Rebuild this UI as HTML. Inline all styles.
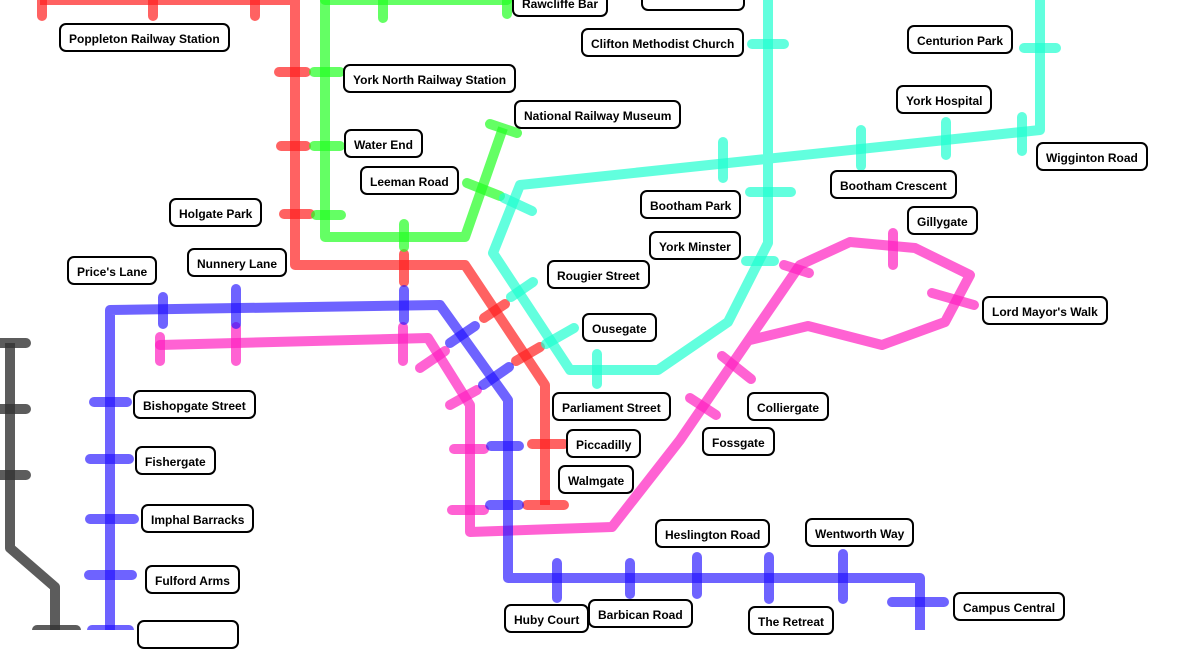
<!DOCTYPE html>
<html><head><meta charset="utf-8"><style>
body{margin:0;width:1200px;height:630px;overflow:hidden;background:#fff;position:relative;font-family:"Liberation Sans",sans-serif}
.l{position:absolute;border:2px solid #000;border-radius:7px;background:#fff;font-size:12px;font-weight:bold;height:29px;line-height:29px;padding:0 8px;box-sizing:border-box;white-space:nowrap}
svg{position:absolute;left:0;top:0}
</style></head><body>
<svg width="1200" height="630" fill="none" stroke-width="10" stroke-linejoin="round" stroke-linecap="round">
<g stroke="#333" stroke-opacity="0.8">
<polyline points="10,343 10,548 55,587 55,640" stroke-linecap="butt"/>
<path d="M0 343H26"/><path d="M0 409H26"/><path d="M0 475H26"/><path d="M37 630H76"/>
</g>
<g stroke="#ff2020" stroke-opacity="0.7">
<polyline points="40,0 295,0 295,265 465,265 545,385 545,505" stroke-linecap="butt"/>
<path d="M42 0V16"/><path d="M153 0V16"/><path d="M255 0V16"/><path d="M279 72H306"/><path d="M281 146H306"/><path d="M284 214H310"/><path d="M404 254V282"/><path d="M484 318L505 304"/><path d="M516 361L540 347"/><path d="M532 444H564"/><path d="M527 505H564"/>
</g>
<g stroke="#22ff22" stroke-opacity="0.7">
<polyline points="325,0 325,237 465,237 503,128" stroke-linecap="butt"/>
<path d="M325 0H507"/><path d="M383 0V18"/><path d="M507 0V14"/><path d="M314 72H340"/><path d="M314 146H340"/><path d="M316 215H341"/><path d="M404 224V247"/><path d="M467 183L500 196"/><path d="M490 124L517 133"/>
</g>
<g stroke="#20ffd0" stroke-opacity="0.7">
<polyline points="768,0 768,243 728,322 658,370 570,370 493,253 520,185 1040,130 1040,0" stroke-linecap="butt"/>
<path d="M752 44H784"/><path d="M723 142V178"/><path d="M750 192H791"/><path d="M861 130V166"/><path d="M946 122V155"/><path d="M1022 117V151"/><path d="M1024 48H1056"/><path d="M504 198L532 211"/><path d="M511 297L533 282"/><path d="M546 344L574 328"/><path d="M597 354V384"/><path d="M746 261H774"/>
</g>
<g stroke="#ff20c0" stroke-opacity="0.7">
<polyline points="160,345 428,338 470,405 470,532 612,527 680,440 800,265 850,242 915,248 970,275 945,322 882,345 808,326 750,340"/>
<path d="M160 337V361"/><path d="M236 327V361"/><path d="M403 327V361"/><path d="M420 368L445 351"/><path d="M450 405L477 390"/><path d="M454 449H484"/><path d="M452 510H484"/><path d="M690 398L716 415"/><path d="M722 356L751 379"/><path d="M784 265L809 273"/><path d="M893 233V265"/><path d="M932 293L974 305"/>
</g>
<g stroke="#2010ff" stroke-opacity="0.65">
<polyline points="110,640 110,310 440,305 508,400 508,578 920,578 920,640" stroke-linecap="butt"/>
<path d="M163 297V324"/><path d="M236 289V324"/><path d="M404 290V320"/><path d="M450 343L475 326"/><path d="M483 385L509 367"/><path d="M491 446H519"/><path d="M490 505H519"/><path d="M94 402H127"/><path d="M90 459H129"/><path d="M90 519H134"/><path d="M89 575H132"/><path d="M92 630H129"/><path d="M557 563V598"/><path d="M630 563V594"/><path d="M697 557V594"/><path d="M769 557V599"/><path d="M843 554V599"/><path d="M892 602H944"/>
</g>
</svg>
<div class="l" style="left:512px;top:-12px">Rawcliffe Bar</div>
<div class="l" style="left:641px;top:-18px;width:104px">&nbsp;</div>
<div class="l" style="left:59px;top:23px">Poppleton Railway Station</div>
<div class="l" style="left:581px;top:28px">Clifton Methodist Church</div>
<div class="l" style="left:907px;top:25px">Centurion Park</div>
<div class="l" style="left:343px;top:64px">York North Railway Station</div>
<div class="l" style="left:896px;top:85px">York Hospital</div>
<div class="l" style="left:514px;top:100px">National Railway Museum</div>
<div class="l" style="left:344px;top:129px">Water End</div>
<div class="l" style="left:1036px;top:142px">Wigginton Road</div>
<div class="l" style="left:360px;top:166px">Leeman Road</div>
<div class="l" style="left:830px;top:170px">Bootham Crescent</div>
<div class="l" style="left:169px;top:198px">Holgate Park</div>
<div class="l" style="left:640px;top:190px">Bootham Park</div>
<div class="l" style="left:907px;top:206px">Gillygate</div>
<div class="l" style="left:649px;top:231px">York Minster</div>
<div class="l" style="left:187px;top:248px">Nunnery Lane</div>
<div class="l" style="left:67px;top:256px">Price's Lane</div>
<div class="l" style="left:547px;top:260px">Rougier Street</div>
<div class="l" style="left:982px;top:296px">Lord Mayor's Walk</div>
<div class="l" style="left:582px;top:313px">Ousegate</div>
<div class="l" style="left:133px;top:390px">Bishopgate Street</div>
<div class="l" style="left:552px;top:392px">Parliament Street</div>
<div class="l" style="left:747px;top:392px">Colliergate</div>
<div class="l" style="left:566px;top:429px">Piccadilly</div>
<div class="l" style="left:702px;top:427px">Fossgate</div>
<div class="l" style="left:135px;top:446px">Fishergate</div>
<div class="l" style="left:558px;top:465px">Walmgate</div>
<div class="l" style="left:141px;top:504px">Imphal Barracks</div>
<div class="l" style="left:655px;top:519px">Heslington Road</div>
<div class="l" style="left:805px;top:518px">Wentworth Way</div>
<div class="l" style="left:145px;top:565px">Fulford Arms</div>
<div class="l" style="left:953px;top:592px">Campus Central</div>
<div class="l" style="left:588px;top:599px">Barbican Road</div>
<div class="l" style="left:504px;top:604px">Huby Court</div>
<div class="l" style="left:748px;top:606px">The Retreat</div>
<div class="l" style="left:137px;top:620px;width:102px">&nbsp;</div>
</body></html>
